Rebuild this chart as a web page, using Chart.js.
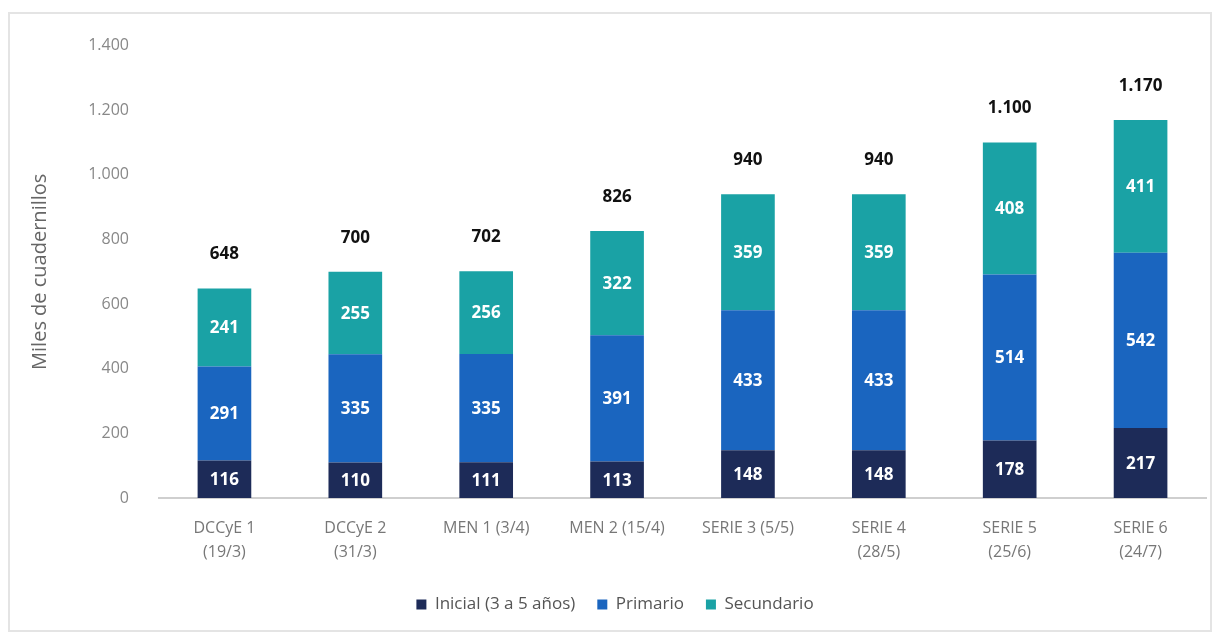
<!DOCTYPE html>
<html>
<head>
<meta charset="utf-8">
<script src="https://cdn.jsdelivr.net/npm/chart.js@4"></script>
<style>
  html, body { margin: 0; padding: 0; background: #fff; }
  #box {
    position: absolute; left: 8px; top: 12px;
    width: 1200px; height: 616px;
    border: 2px solid #e4e4e4;
  }
  #chart { display: block; }
</style>
</head>
<body>
<div id="box"><canvas id="chart" width="1200" height="616"></canvas></div>
<script>
// data
const categories = [
  ["DCCyE 1", "(19/3)"],
  ["DCCyE 2", "(31/3)"],
  "MEN 1 (3/4)",
  "MEN 2 (15/4)",
  "SERIE 3 (5/5)",
  ["SERIE 4", "(28/5)"],
  ["SERIE 5", "(25/6)"],
  ["SERIE 6", "(24/7)"]
];
const inicial = [116, 110, 111, 113, 148, 148, 178, 217];
const primario = [291, 335, 335, 391, 433, 433, 514, 542];
const secundario = [241, 255, 256, 322, 359, 359, 408, 411];
const totals = [648, 700, 702, 826, 940, 940, 1100, 1170];
const yTicks = [0, 200, 400, 600, 800, 1000, 1200, 1400];

const FONT = "'Open Sans', 'DejaVu Sans', sans-serif";
const fmt = v => String(v).replace(/\B(?=(\d{3})+(?!\d))/g, ".");

// labels inside segments and totals on top
const labelPlugin = {
  id: "barLabels",
  afterDatasetsDraw(chart) {
    const ctx = chart.ctx;
    ctx.save();
    ctx.textAlign = "center";
    ctx.textBaseline = "middle";
    ctx.font = "bold 17px " + FONT;
    ctx.fillStyle = "#ffffff";
    chart.data.datasets.forEach((ds, i) => {
      const meta = chart.getDatasetMeta(i);
      meta.data.forEach((bar, j) => {
        const mid = (bar.y + bar.base) / 2;
        ctx.fillText(ds.data[j], bar.x, mid + 1);
      });
    });
    const topMeta = chart.getDatasetMeta(chart.data.datasets.length - 1);
    ctx.fillStyle = "#111111";
    topMeta.data.forEach((bar, j) => {
      ctx.fillText(fmt(totals[j]), bar.x, bar.y - 34);
    });
    ctx.restore();
  }
};

new Chart(document.getElementById("chart"), {
  type: "bar",
  data: {
    labels: categories,
    datasets: [
      { label: "Inicial (3 a 5 años)", data: inicial, backgroundColor: "#1d2b58" },
      { label: "Primario", data: primario, backgroundColor: "#1a65bf" },
      { label: "Secundario", data: secundario, backgroundColor: "#1aa2a5" }
    ]
  },
  options: {
    responsive: false,
    animation: false,
    layout: { padding: { left: 14, right: 4, top: 22, bottom: 7 } },
    datasets: { bar: { categoryPercentage: 1, barPercentage: 0.41 } },
    plugins: {
      legend: {
        position: "bottom",
        labels: {
          boxWidth: 10, boxHeight: 10, padding: 22,
          color: "#555", font: { family: FONT, size: 17 }
        }
      },
      tooltip: { enabled: false }
    },
    scales: {
      x: {
        stacked: true,
        grid: { display: false },
        border: { display: true, color: "#cfcfcf", width: 2 },
        ticks: { color: "#777", font: { family: FONT, size: 16, lineHeight: 1.5 }, padding: 10, maxRotation: 0, autoSkip: false }
      },
      y: {
        stacked: true,
        min: 0, max: 1400,
        afterFit(scale) { scale.width = 135; },
        afterBuildTicks(scale) { scale.ticks = yTicks.map(v => ({ value: v })); },
        grid: { display: false },
        border: { display: false },
        title: { display: true, text: "Miles de cuadernillos", color: "#666", font: { family: FONT, size: 20 } },
        ticks: { color: "#888", font: { family: FONT, size: 16 }, padding: 22, callback: v => fmt(v) }
      }
    }
  },
  plugins: [labelPlugin]
});
</script>
</body>
</html>
